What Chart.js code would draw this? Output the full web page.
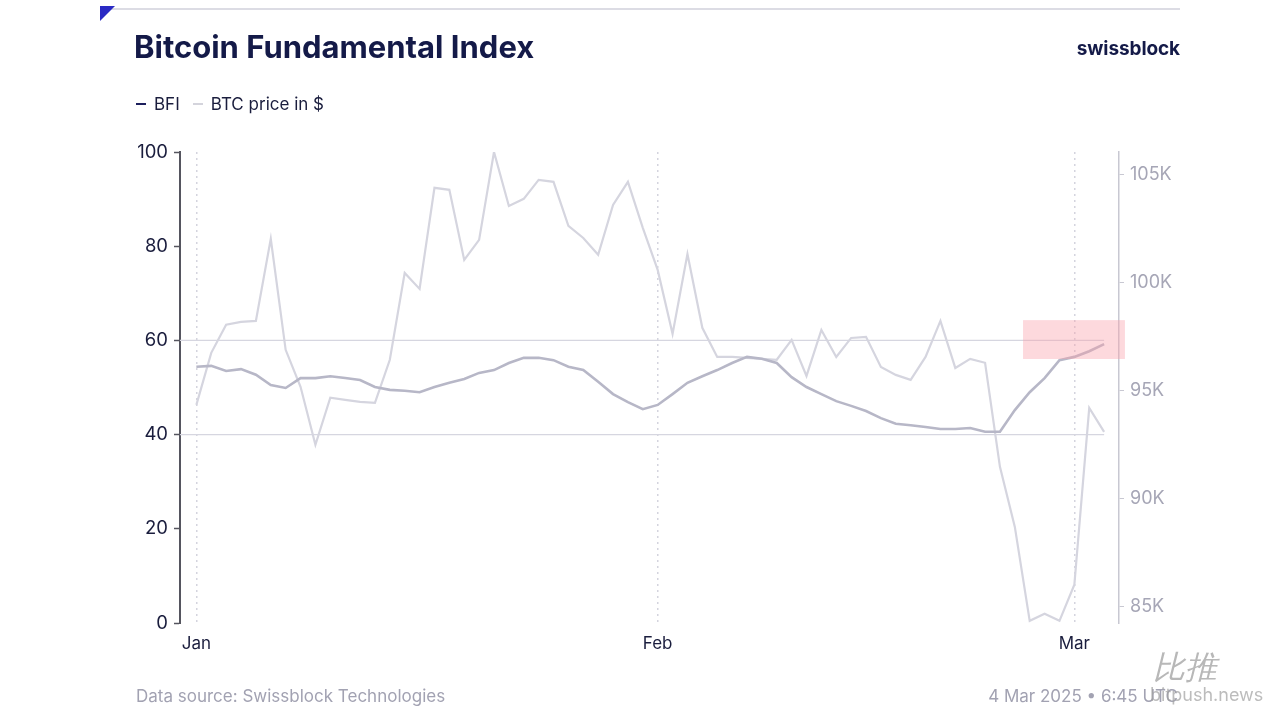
<!DOCTYPE html>
<html>
<head>
<meta charset="utf-8">
<script src="https://cdn.jsdelivr.net/npm/chart.js@4.4.1/dist/chart.umd.min.js"></script>
<style>
  html, body { margin: 0; padding: 0; background: #fff; }
  body { width: 1280px; height: 720px; position: relative; overflow: hidden; font-family: Inter, "Noto Sans", sans-serif; }
  #wrap { position: absolute; left: 0; top: 0; width: 1280px; height: 720px; }
  .topline { position: absolute; left: 100px; top: 8px; width: 1080px; height: 1.5px; background: #dcdce4; }
  .corner { position: absolute; left: 100px; top: 6px; width: 0; height: 0; border-top: 15px solid #2a2ac4; border-right: 15px solid transparent; }
  .title { position: absolute; left: 134px; top: 28px; font-size: 31px; font-weight: 700; color: #141a48; letter-spacing: 0px; }
  .brand { position: absolute; right: 100px; top: 37px; font-size: 19px; font-weight: 700; color: #141a48; letter-spacing: -0.1px; }
  .legend { position: absolute; left: 136px; top: 94px; font-size: 17px; color: #1a1d3d; display: flex; align-items: center; }
  .legend .dash { display: inline-block; width: 10px; height: 2.5px; margin-right: 8px; }
  .legend .item { display: flex; align-items: center; margin-right: 13px; }
  .foot { position: absolute; top: 686px; font-size: 17px; color: #a2a2b2; }
  .wm1 { position: absolute; left: 1153px; top: 646px; font-size: 32px; color: #9a9a9a; font-style: italic; opacity: 0.7; }
  .wm2 { position: absolute; left: 1150px; top: 684px; font-size: 18px; color: #a0a0a0; opacity: 0.7; }
</style>
</head>
<body>
<div id="wrap"><canvas id="myChart" width="1280" height="720"></canvas></div>
<div class="topline"></div>
<div class="corner"></div>
<div class="title">Bitcoin Fundamental Index</div>
<div class="brand">swissblock</div>
<div class="legend">
  <span class="item"><span class="dash" style="background:#1c1f5c"></span>BFI</span>
  <span class="item"><span class="dash" style="background:#d4d4dc"></span>BTC price in $</span>
</div>
<div class="foot" style="left:136px">Data source: Swissblock Technologies</div>
<div class="foot" style="right:102px">4 Mar 2025 • 6:45 UTC</div>
<div class="wm1">比推</div>
<div class="wm2">bitpush.news</div>
<script>
// daily values, 1 Jan 2025 .. 3 Mar 2025
const bfi = [
    54.4, 54.6, 53.5, 53.9, 52.7, 50.5, 49.9, 52.0, 52.0, 52.4,
    52.0, 51.6, 50.1, 49.5, 49.3, 49.0, 50.1, 51.0, 51.8, 53.1,
    53.7, 55.2, 56.3, 56.3, 55.8, 54.4, 53.7, 51.2, 48.6, 46.9,
    45.4, 46.3, 48.6, 51.0, 52.4, 53.7, 55.2, 56.5, 56.1, 55.2,
    52.2, 50.1, 48.6, 47.1, 46.1, 45.0, 43.5, 42.3, 42.0, 41.6,
    41.2, 41.2, 41.4, 40.6, 40.6, 45.2, 49.0, 52.0, 55.8, 56.5,
    57.7, 59.2
];

const btcPrice = [
    94350, 96760, 98060, 98190, 98240, 102040, 96900, 95190, 92500, 94680,
    94580, 94490, 94440, 96440, 100460, 99720, 104400, 104310, 101060, 101990,
    106060, 103560, 103890, 104770, 104680, 102640, 102080, 101300, 103610, 104680,
    102550, 100600, 97640, 101340, 97920, 96570, 96570, 96530, 96480, 96440,
    97360, 95690, 97820, 96570, 97450, 97500, 96110, 95740, 95510, 96570,
    98240, 96060, 96480, 96300, 91480, 88700, 84350, 84680, 84350, 86020,
    94210, 93100
];

const monthLabels = ['Jan', 'Feb', 'Mar'];
const monthDays = [0, 31, 59];
const bfiTicks = [0, 20, 40, 60, 80, 100];
const priceTicks = [85000, 90000, 95000, 100000, 105000];
const refLevels = [40, 60];

// highlighted zone (in day / BFI units)
const zone = { fromDay: 55.55, toDay: 62.4, low: 56.05, high: 64.3 };

const navy = '#1a1d3d';

const refSets = refLevels.map(lv => ({
    label: 'ref' + lv,
    data: [{ x: -1.1, y: lv }, { x: bfi.length - 1, y: lv }],
    yAxisID: 'y',
    borderColor: '#d6d6e0',
    borderWidth: 1.2,
    pointRadius: 0,
    order: 5
}));

const data = {
    datasets: [
        {
            label: 'BFI',
            data: bfi.map((v, i) => ({ x: i, y: v })),
            yAxisID: 'y',
            borderColor: '#b7b7c7',
            borderWidth: 2.6,
            pointRadius: 0,
            order: 1
        },
        {
            label: 'BTC price in $',
            data: btcPrice.map((v, i) => ({ x: i, y: v })),
            yAxisID: 'y1',
            borderColor: '#d5d5df',
            borderWidth: 2.2,
            pointRadius: 0,
            order: 2
        },
        ...refSets
    ]
};

const zonePlugin = {
    id: 'zone',
    afterDatasetsDraw(chart) {
        const { ctx, scales } = chart;
        const x1 = scales.x.getPixelForValue(zone.fromDay);
        const x2 = scales.x.getPixelForValue(zone.toDay);
        const y1 = scales.y.getPixelForValue(zone.high);
        const y2 = scales.y.getPixelForValue(zone.low);
        ctx.save();
        ctx.fillStyle = 'rgba(250, 160, 170, 0.4)';
        ctx.fillRect(x1, y1, x2 - x1, y2 - y1);
        ctx.restore();
    }
};

const config = {
    type: 'line',
    data: data,
    plugins: [zonePlugin],
    options: {
        responsive: false,
        animation: false,
        layout: { padding: { top: 152, left: 0, right: 0, bottom: 0 } },
        plugins: { legend: { display: false }, tooltip: { enabled: false } },
        scales: {
            x: {
                type: 'linear',
                min: -1.1,
                max: 62,
                afterBuildTicks: s => { s.ticks = monthDays.map(v => ({ value: v })); },
                afterFit: s => { s.height = 97; },
                ticks: {
                    callback: v => monthLabels[monthDays.indexOf(v)],
                    color: navy,
                    font: { family: 'Inter', size: 17 },
                    padding: 11,
                    maxRotation: 0
                },
                grid: {
                    color: '#d4d4de',
                    lineWidth: 1.5,
                    drawTicks: false
                },
                border: { display: false, dash: [2, 4] }
            },
            y: {
                position: 'left',
                min: 0,
                max: 100,
                afterBuildTicks: s => { s.ticks = bfiTicks.map(v => ({ value: v })); },
                afterFit: s => { s.width = 180; },
                ticks: {
                    color: navy,
                    font: { family: 'Inter', size: 18.5 },
                    padding: 6
                },
                grid: {
                    drawOnChartArea: false,
                    tickColor: '#55555f',
                    tickLength: 6,
                    tickWidth: 1.5
                },
                border: { display: true, color: '#55555f', width: 2 }
            },
            y1: {
                position: 'right',
                min: 84250,
                max: 106060,
                afterBuildTicks: s => { s.ticks = priceTicks.map(v => ({ value: v })); },
                afterFit: s => { s.width = 161; },
                ticks: {
                    callback: v => (v / 1000) + 'K',
                    color: '#a6a6b6',
                    font: { family: 'Inter', size: 18 },
                    padding: 6
                },
                grid: {
                    drawOnChartArea: false,
                    tickColor: '#c8c8d2',
                    tickLength: 5
                },
                border: { display: true, color: '#c8c8d2', width: 1.5 }
            }
        }
    }
};

// dotted month lines
config.options.scales.x.grid.borderDash = [2, 4];
config.options.scales.x.border.dash = [2, 4];

const myChart = new Chart(
    document.getElementById('myChart'),
    config
);
</script>
</body>
</html>
